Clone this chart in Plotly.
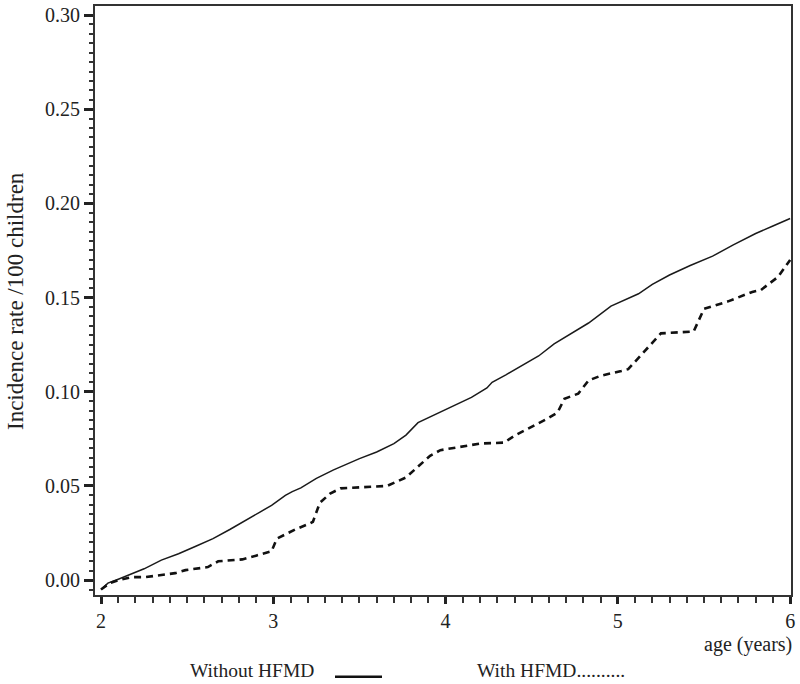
import plotly.graph_objects as go

# ---- data ----
age_without = [2.0, 2.04, 2.1, 2.16, 2.25, 2.35, 2.45, 2.55, 2.65, 2.75, 2.84, 2.92, 2.99,
               3.07, 3.11, 3.16, 3.25, 3.35, 3.5, 3.6, 3.7, 3.77, 3.84, 3.92, 4.05, 4.15,
               4.24, 4.27, 4.35, 4.44, 4.54, 4.63, 4.73, 4.83, 4.96, 5.05, 5.12, 5.2, 5.3,
               5.42, 5.55, 5.67, 5.8, 5.9, 6.0]
rate_without = [-0.005, -0.0016, 0.0005, 0.0026, 0.006, 0.0106, 0.014, 0.018, 0.022, 0.027,
                0.032, 0.036, 0.0397, 0.045, 0.047, 0.049, 0.054, 0.0585, 0.0645, 0.068,
                0.0725, 0.077, 0.0836, 0.087, 0.0926, 0.097, 0.102, 0.105, 0.109, 0.1138,
                0.119, 0.1254, 0.131, 0.1365, 0.1455, 0.149, 0.152, 0.157, 0.162, 0.167,
                0.172, 0.178, 0.184, 0.188, 0.192]

age_with = [2.0, 2.05, 2.1, 2.18, 2.26, 2.43, 2.49, 2.62, 2.68, 2.82, 2.9, 2.99, 3.02, 3.13,
            3.21, 3.23, 3.27, 3.33, 3.39, 3.66, 3.77, 3.91, 3.97, 4.2, 4.34, 4.4, 4.59, 4.65,
            4.69, 4.77, 4.83, 4.9, 5.02, 5.06, 5.12, 5.19, 5.25, 5.44, 5.5, 5.64, 5.78, 5.83,
            5.93, 6.0]
rate_with = [-0.005, -0.0016, 0.0, 0.0016, 0.0016, 0.0037, 0.0053, 0.0069, 0.010, 0.011,
             0.013, 0.0153, 0.022, 0.027, 0.030, 0.031, 0.041, 0.046, 0.0487, 0.050, 0.0545,
             0.066, 0.069, 0.0725, 0.073, 0.0767, 0.0857, 0.089, 0.0963, 0.099, 0.106, 0.1085,
             0.111, 0.112, 0.118, 0.125, 0.131, 0.132, 0.144, 0.148, 0.153, 0.154, 0.161, 0.170]

x_ticks = [2, 3, 4, 5, 6]
y_ticks = [0.00, 0.05, 0.10, 0.15, 0.20, 0.25, 0.30]

FONT = "Liberation Serif, Times New Roman, serif"
W, H = 800, 684
ML, MR, MT, MB = 95, 9, 4, 89
PW, PH = W - ML - MR, H - MT - MB


def px(x):
    return (x - ML) / PW


def py(y):
    return (H - MB - y) / PH


fig = go.Figure()
fig.add_trace(go.Scatter(x=age_without, y=rate_without, mode="lines",
                         line=dict(color="#1a1a1a", width=1.5), name="Without HFMD",
                         showlegend=False))
fig.add_trace(go.Scatter(x=age_with, y=rate_with, mode="lines",
                         line=dict(color="#111111", width=2.6, dash="7px,5px"),
                         name="With HFMD", showlegend=False))

fig.update_layout(
    width=W, height=H,
    margin=dict(l=ML, r=MR, t=MT, b=MB),
    paper_bgcolor="white", plot_bgcolor="white",
    font=dict(family=FONT, color="#222", size=20),
    xaxis=dict(range=[1.965, 6.005], tickvals=x_ticks, ticktext=[str(v) for v in x_ticks],
               showgrid=False, zeroline=False, showline=True, linecolor="#333", linewidth=2,
               mirror=True, ticks="outside", ticklen=7, tickwidth=3, tickcolor="#222",
               minor=dict(dtick=0.1, tick0=2, ticks="outside", ticklen=6, tickwidth=1.5,
                          tickcolor="#333", showgrid=False),
               tickfont=dict(family=FONT, size=20, color="#222")),
    yaxis=dict(range=[-0.0079, 0.3048], tickvals=y_ticks, tickformat=".2f",
               showgrid=False, zeroline=False, showline=True, linecolor="#333", linewidth=2,
               mirror=True, ticks="outside", ticklen=9, tickwidth=3, tickcolor="#222",
               minor=dict(dtick=0.005, tick0=0, ticks="outside", ticklen=4, tickwidth=1.5,
                          tickcolor="#333", showgrid=False),
               tickfont=dict(family=FONT, size=20, color="#222")),
)

fig.add_annotation(text="Incidence rate /100 children", textangle=-90, xref="paper", yref="paper",
                   x=px(16), y=py(300), xanchor="center", yanchor="middle", showarrow=False,
                   font=dict(family=FONT, size=23, color="#222"))
fig.add_annotation(text="age (years)", xref="paper", yref="paper", x=px(794), y=py(645),
                   xanchor="right", yanchor="middle", showarrow=False,
                   font=dict(family=FONT, size=20, color="#222"))
fig.add_annotation(text="Without HFMD", xref="paper", yref="paper", x=px(188), y=py(671),
                   xanchor="left", yanchor="middle", showarrow=False,
                   font=dict(family=FONT, size=19.5, color="#222"))
fig.add_annotation(text="With HFMD..........", xref="paper", yref="paper", x=px(475), y=py(671),
                   xanchor="left", yanchor="middle", showarrow=False,
                   font=dict(family=FONT, size=19.5, color="#222"))
fig.add_shape(type="line", xref="paper", yref="paper", x0=px(335), x1=px(382),
              y0=py(677), y1=py(677), line=dict(color="#111", width=2.5))

fig.write_html("out.html", config={"displayModeBar": False},
               post_script="document.body.style.margin='0';document.body.style.padding='0';")
